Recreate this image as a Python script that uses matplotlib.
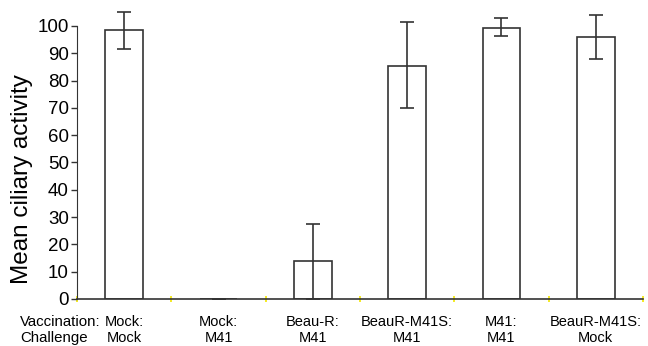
import matplotlib.pyplot as plt
import numpy as np

plt.rcParams['font.family'] = ['Liberation Sans', 'DejaVu Sans']

vaccination = ['Mock:', 'Mock:', 'Beau-R:', 'BeauR-M41S:', 'M41:', 'BeauR-M41S:']
challenge = ['Mock', 'M41', 'M41', 'M41', 'M41', 'Mock']
means = [98.5, 0, 13.8, 85.5, 99.4, 95.8]
err_low = [7.0, 0, 13.8, 15.5, 3.2, 7.8]
err_high = [6.5, 0, 13.7, 16.0, 3.6, 8.2]

fig = plt.figure(figsize=(6.48, 3.46), dpi=100)
ax = fig.add_axes([0.119, 0.136, 0.873, 0.789])

x = np.arange(len(means))
ax.bar(x, means, width=0.4, color='white', edgecolor='#333333', linewidth=1.2, zorder=2)
ax.errorbar(x, means, yerr=[err_low, err_high], fmt='none', ecolor='#333333',
            elinewidth=1.2, capsize=5, capthick=1.2, clip_on=False, zorder=3)

ax.set_xlim(-0.5, len(means) - 0.5)
ax.set_ylim(0, 100)
ax.set_yticks(range(0, 101, 10))
ax.tick_params(axis='y', labelsize=13.5, length=4, width=1, color='#333333', pad=2)
ax.set_xticks(np.arange(-0.5, len(means), 1.0))
ax.set_xticklabels([])
ax.tick_params(axis='x', length=4, width=1.2, color='#f2e600', direction='inout')
for s in ['top', 'right']:
    ax.spines[s].set_visible(False)
ax.spines['left'].set_color('#333333')
ax.spines['bottom'].set_color('#333333')
ax.spines['bottom'].set_linewidth(1.2)
ax.set_ylabel('Mean ciliary activity', fontsize=17.5)
ax.yaxis.set_label_coords(-0.078, 0.44)

# category labels under the axis
for i in range(len(means)):
    ax.text(i, -0.085, vaccination[i], transform=ax.get_xaxis_transform(),
            ha='center', va='center', fontsize=10.5)
    ax.text(i, -0.142, challenge[i], transform=ax.get_xaxis_transform(),
            ha='center', va='center', fontsize=10.5)
fig.text(20 / 648, 1 - 322 / 346, 'Vaccination:', ha='left', va='center', fontsize=10.8)
fig.text(20 / 648, 1 - 338 / 346, 'Challenge', ha='left', va='center', fontsize=10.8)

fig.savefig('out.png', dpi=100)
